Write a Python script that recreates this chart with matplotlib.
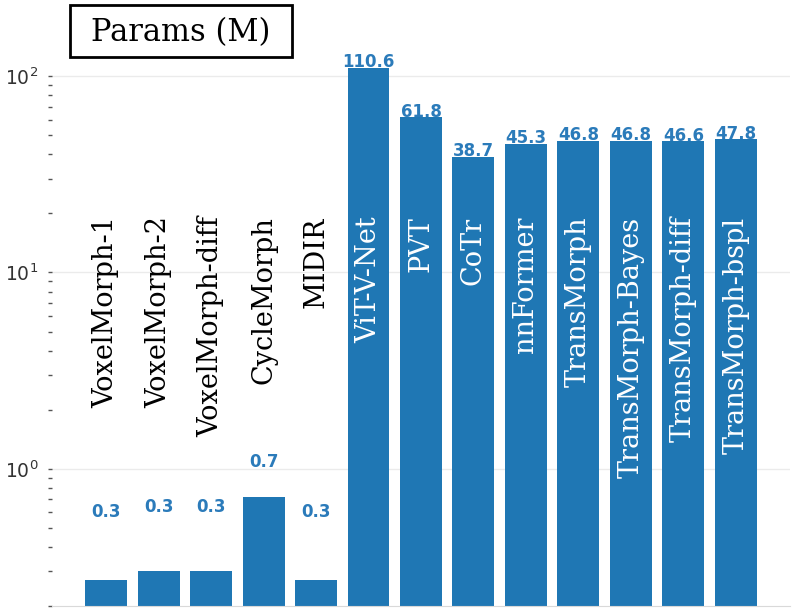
import numpy as np
import matplotlib.pyplot as plt
from matplotlib.patches import Rectangle

# Data: model names and parameter counts (millions)
methods = ['VoxelMorph-1', 'VoxelMorph-2', 'VoxelMorph-diff', 'CycleMorph', 'MIDIR',
           'ViT-V-Net', 'PVT', 'CoTr', 'nnFormer', 'TransMorph',
           'TransMorph-Bayes', 'TransMorph-diff', 'TransMorph-bspl']
params = [0.27, 0.30, 0.30, 0.72, 0.27,
          110.6, 61.8, 38.7, 45.3, 46.8, 46.8, 46.6, 47.8]
y_min, y_max = 0.2, 150

bar_color = '#1f77b4'
label_color = '#2b7bba'

fig = plt.figure(figsize=(7.95, 6.12), dpi=100)
ax = fig.add_axes([0.0654, 0.0098, 0.9283, 0.9222])

x = np.arange(len(methods))
ax.bar(x, params, width=0.8, color=bar_color, zorder=2)

ax.set_yscale('log')
ax.set_ylim(y_min, y_max)
ax.set_xlim(-1.03, len(methods) - 1 + 1.03)
ax.set_xticks([])

# Style: light horizontal grid, only bottom spine
ax.grid(axis='y', which='major', color='#ebebeb', linewidth=1)
ax.set_axisbelow(True)
for side in ['left', 'top', 'right']:
    ax.spines[side].set_visible(False)
ax.spines['bottom'].set_color('#d9d9d9')
ax.tick_params(axis='y', which='both', length=3, width=1, color='#555555',
               pad=7, labelsize=13.5, labelcolor='#333333')

# Value labels and rotated method names
for i, (name, v) in enumerate(zip(methods, params)):
    ax.text(i, v + 0.3, f'{v:.1f}', ha='center', va='baseline', fontsize=12,
            fontweight='bold', color=label_color, zorder=1)
    ax.text(i, 19.3, name, rotation=90, ha='center', va='top', fontsize=19.5,
            family='DejaVu Serif', color='white' if v > 20 else 'black', zorder=3)

# Boxed title
fig.patches.append(Rectangle((0.088, 0.9069), 0.279, 0.085, transform=fig.transFigure,
                             facecolor='white', edgecolor='black', linewidth=2))
fig.text(0.2277, 0.947, 'Params (M)', ha='center', va='center', fontsize=22,
         family='DejaVu Serif', color='black')

plt.savefig('out.png', dpi=100)
